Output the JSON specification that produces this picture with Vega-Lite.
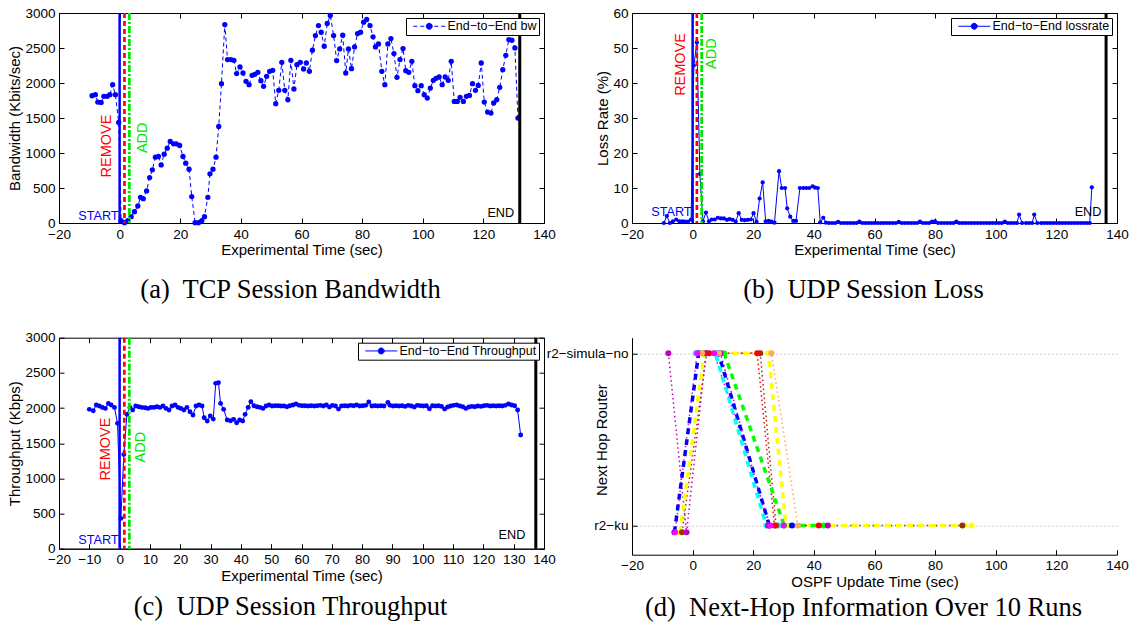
{
"$schema": "https://vega.github.io/schema/vega-lite/v6.json",
"background": "white",
"padding": {"left": 7, "top": 5, "right": 5, "bottom": 5},
"columns": 2,
"spacing": {"row": 114.7, "column": 88},
"bounds": "flush",
"datasets": {
"bw": [{"t":-9.1,"v":1818},{"t":-8.0,"v":1833},{"t":-7.2,"v":1728},{"t":-6.1,"v":1723},{"t":-5.2,"v":1809},{"t":-4.1,"v":1809},{"t":-3.2,"v":1833},{"t":-2.3,"v":1976},{"t":-1.4,"v":1833},{"t":-0.3,"v":1437},{"t":0.5,"v":33},{"t":1.6,"v":5},{"t":2.7,"v":33},{"t":3.8,"v":90},{"t":4.9,"v":162},{"t":6.0,"v":243},{"t":6.9,"v":367},{"t":7.8,"v":348},{"t":8.9,"v":458},{"t":9.9,"v":649},{"t":10.8,"v":759},{"t":11.8,"v":940},{"t":12.8,"v":950},{"t":13.7,"v":830},{"t":14.7,"v":983},{"t":15.7,"v":1069},{"t":16.7,"v":1165},{"t":17.8,"v":1131},{"t":18.7,"v":1131},{"t":19.8,"v":1107},{"t":20.9,"v":950},{"t":21.8,"v":854},{"t":22.9,"v":768},{"t":23.8,"v":377},{"t":24.9,"v":5},{"t":26.0,"v":5},{"t":27.1,"v":33},{"t":28.0,"v":90},{"t":29.1,"v":367},{"t":29.8,"v":702},{"t":30.8,"v":768},{"t":31.8,"v":940},{"t":32.7,"v":1379},{"t":33.6,"v":1990},{"t":34.7,"v":2835},{"t":35.6,"v":2334},{"t":36.7,"v":2334},{"t":37.7,"v":2324},{"t":38.6,"v":2134},{"t":39.7,"v":2229},{"t":40.7,"v":2143},{"t":41.7,"v":2024},{"t":42.7,"v":1976},{"t":43.7,"v":2110},{"t":44.6,"v":2124},{"t":45.6,"v":2153},{"t":46.6,"v":2033},{"t":47.5,"v":1952},{"t":48.5,"v":2095},{"t":49.5,"v":2167},{"t":50.5,"v":2181},{"t":51.5,"v":1704},{"t":52.5,"v":1895},{"t":53.5,"v":2296},{"t":54.5,"v":1895},{"t":55.5,"v":1761},{"t":56.5,"v":2324},{"t":57.5,"v":1914},{"t":58.5,"v":2262},{"t":59.6,"v":2296},{"t":60.7,"v":2200},{"t":61.6,"v":2286},{"t":62.6,"v":2167},{"t":63.6,"v":2468},{"t":64.6,"v":2678},{"t":65.6,"v":2821},{"t":66.5,"v":2725},{"t":67.5,"v":2525},{"t":68.5,"v":2850},{"t":69.5,"v":2964},{"t":70.6,"v":2678},{"t":71.6,"v":2320},{"t":72.6,"v":2487},{"t":73.6,"v":2682},{"t":74.6,"v":2143},{"t":75.5,"v":2487},{"t":76.5,"v":2205},{"t":77.5,"v":2515},{"t":78.5,"v":2706},{"t":79.5,"v":2725},{"t":80.5,"v":2869},{"t":81.5,"v":2907},{"t":82.6,"v":2821},{"t":83.6,"v":2659},{"t":84.4,"v":2515},{"t":85.4,"v":2558},{"t":86.5,"v":2167},{"t":87.5,"v":1976},{"t":88.5,"v":2558},{"t":89.5,"v":2635},{"t":90.5,"v":2420},{"t":91.5,"v":2081},{"t":92.5,"v":2334},{"t":93.5,"v":2492},{"t":94.4,"v":2176},{"t":95.4,"v":2153},{"t":96.4,"v":2310},{"t":97.4,"v":1962},{"t":98.4,"v":1890},{"t":99.5,"v":1962},{"t":100.5,"v":1833},{"t":101.5,"v":1785},{"t":102.5,"v":1928},{"t":103.5,"v":2038},{"t":104.4,"v":2067},{"t":105.4,"v":2086},{"t":106.4,"v":1976},{"t":107.4,"v":2086},{"t":108.4,"v":2038},{"t":109.4,"v":2310},{"t":110.4,"v":1737},{"t":111.4,"v":1737},{"t":112.3,"v":1795},{"t":113.4,"v":1737},{"t":114.4,"v":1809},{"t":115.4,"v":1823},{"t":116.4,"v":1990},{"t":117.4,"v":1895},{"t":118.3,"v":1966},{"t":119.3,"v":2286},{"t":120.3,"v":1728},{"t":121.4,"v":1585},{"t":122.5,"v":1570},{"t":123.4,"v":1714},{"t":124.4,"v":1761},{"t":125.4,"v":1938},{"t":126.4,"v":2191},{"t":127.4,"v":2396},{"t":128.4,"v":2620},{"t":129.4,"v":2611},{"t":130.4,"v":2501},{"t":131.4,"v":1499}],
"loss": [{"t":-9.5,"v":0},{"t":-8.5,"v":2},{"t":-7.5,"v":0},{"t":-6.5,"v":0.5},{"t":-5.4,"v":1},{"t":-4.4,"v":0.5},{"t":-3.4,"v":0.5},{"t":-2.5,"v":0.4},{"t":-1.5,"v":0.4},{"t":-0.5,"v":1},{"t":0.4,"v":45},{"t":1.4,"v":51.6},{"t":2.4,"v":14},{"t":3.4,"v":0.5},{"t":4.4,"v":3},{"t":5.4,"v":0.5},{"t":6.3,"v":1},{"t":7.3,"v":1},{"t":8.3,"v":1.5},{"t":9.3,"v":1.3},{"t":10.3,"v":1.3},{"t":11.3,"v":0.9},{"t":12.2,"v":1.1},{"t":13.2,"v":0.9},{"t":14.2,"v":0.4},{"t":15.2,"v":2.8},{"t":16.2,"v":0.9},{"t":17.2,"v":0.8},{"t":18.2,"v":0.9},{"t":19.2,"v":1},{"t":20.1,"v":2.8},{"t":21.1,"v":0.3},{"t":22.1,"v":7},{"t":23.1,"v":11.6},{"t":24.1,"v":0.5},{"t":25.1,"v":0.6},{"t":26,"v":0.4},{"t":27,"v":0.1},{"t":28.5,"v":14.8},{"t":29.4,"v":10},{"t":30.5,"v":10},{"t":31.2,"v":4.2},{"t":32.2,"v":1.8},{"t":33.2,"v":0.6},{"t":34.1,"v":0.6},{"t":35.4,"v":10},{"t":36.5,"v":10},{"t":37.5,"v":10},{"t":38.5,"v":10},{"t":39.6,"v":10.5},{"t":40.4,"v":10.1},{"t":41.3,"v":10},{"t":42.1,"v":0.2},{"t":43.1,"v":1.5},{"t":44,"v":0.1},{"t":45,"v":0},{"t":46,"v":0},{"t":47,"v":0},{"t":48,"v":0.3},{"t":49,"v":0},{"t":50,"v":0},{"t":51,"v":0},{"t":52,"v":0},{"t":53,"v":0},{"t":54,"v":0},{"t":55,"v":0.4},{"t":56,"v":0},{"t":57,"v":0},{"t":58,"v":0},{"t":59,"v":0},{"t":60,"v":0},{"t":61,"v":0},{"t":62,"v":0},{"t":63,"v":0},{"t":64,"v":0},{"t":65,"v":0},{"t":66,"v":0},{"t":67,"v":0},{"t":68,"v":0.3},{"t":69,"v":0},{"t":70,"v":0},{"t":71,"v":0},{"t":72,"v":0},{"t":73,"v":0},{"t":74,"v":0},{"t":75,"v":0.4},{"t":76,"v":0},{"t":77,"v":0},{"t":78,"v":0},{"t":79,"v":0.4},{"t":80,"v":0.5},{"t":81,"v":0},{"t":82,"v":0},{"t":83,"v":0},{"t":84,"v":0},{"t":85,"v":0},{"t":86,"v":0},{"t":87,"v":0.4},{"t":88,"v":0},{"t":89,"v":0},{"t":90,"v":0},{"t":91,"v":0},{"t":92,"v":0},{"t":93,"v":0},{"t":94,"v":0},{"t":95,"v":0},{"t":96,"v":0},{"t":97,"v":0},{"t":98,"v":0},{"t":99,"v":0},{"t":100,"v":0},{"t":101,"v":0},{"t":102,"v":0},{"t":103,"v":0.4},{"t":104,"v":0},{"t":105,"v":0},{"t":106,"v":0},{"t":107,"v":0},{"t":107.7,"v":2.4},{"t":108.7,"v":0},{"t":110,"v":0},{"t":111,"v":0},{"t":112,"v":0},{"t":112.7,"v":2.4},{"t":113.7,"v":0},{"t":115,"v":0},{"t":116,"v":0},{"t":117,"v":0},{"t":118,"v":0},{"t":119,"v":0},{"t":120,"v":0},{"t":121,"v":0},{"t":122,"v":0},{"t":123,"v":0},{"t":124,"v":0},{"t":125,"v":0},{"t":126,"v":0},{"t":127,"v":0},{"t":128,"v":0},{"t":129,"v":0},{"t":130,"v":0},{"t":131,"v":0},{"t":131.7,"v":10.2}],
"thr": [{"t":-10.0,"v":1981},{"t":-8.7,"v":1962},{"t":-7.7,"v":2043},{"t":-6.7,"v":2028},{"t":-5.7,"v":2009},{"t":-4.7,"v":1995},{"t":-3.7,"v":2066},{"t":-2.8,"v":2043},{"t":-1.7,"v":2009},{"t":-0.7,"v":1782},{"t":0.4,"v":431},{"t":1.4,"v":1341},{"t":2.4,"v":1910},{"t":3.4,"v":2009},{"t":4.3,"v":1971},{"t":5.3,"v":2028},{"t":6.3,"v":2019},{"t":7.3,"v":2009},{"t":8.4,"v":2005},{"t":9.4,"v":1995},{"t":10.3,"v":2009},{"t":11.3,"v":2009},{"t":12.3,"v":2019},{"t":13.3,"v":2009},{"t":14.3,"v":2028},{"t":15.3,"v":1995},{"t":16.3,"v":1971},{"t":17.3,"v":2028},{"t":18.3,"v":2043},{"t":19.3,"v":2009},{"t":20.2,"v":1995},{"t":21.2,"v":1971},{"t":22.2,"v":2009},{"t":23.2,"v":1948},{"t":24.2,"v":1900},{"t":25.2,"v":2028},{"t":26.2,"v":2043},{"t":27.2,"v":2028},{"t":27.9,"v":1862},{"t":28.9,"v":1815},{"t":29.9,"v":1886},{"t":30.9,"v":1843},{"t":31.7,"v":2351},{"t":32.6,"v":2360},{"t":33.3,"v":2066},{"t":34.3,"v":1981},{"t":35.5,"v":1829},{"t":36.6,"v":1820},{"t":37.6,"v":1839},{"t":38.6,"v":1791},{"t":39.6,"v":1829},{"t":40.6,"v":1815},{"t":41.4,"v":1910},{"t":42.4,"v":2009},{"t":43.3,"v":2090},{"t":44.3,"v":2033},{"t":45.3,"v":2019},{"t":46.3,"v":2009},{"t":47.3,"v":1995},{"t":48.3,"v":2028},{"t":49.3,"v":2043},{"t":50.3,"v":2028},{"t":51.3,"v":2033},{"t":52.3,"v":2033},{"t":53.2,"v":2028},{"t":54.2,"v":2028},{"t":55.2,"v":2019},{"t":56.2,"v":2033},{"t":57.2,"v":2043},{"t":58.2,"v":2057},{"t":59.2,"v":2038},{"t":60.2,"v":2033},{"t":61.2,"v":2033},{"t":62.2,"v":2028},{"t":63.2,"v":2033},{"t":64.2,"v":2028},{"t":65.2,"v":2033},{"t":66.2,"v":2038},{"t":67.2,"v":2028},{"t":68.2,"v":2043},{"t":69.2,"v":2014},{"t":70.2,"v":2038},{"t":71.2,"v":2028},{"t":72.2,"v":1985},{"t":73.2,"v":2028},{"t":74.2,"v":2033},{"t":75.2,"v":2028},{"t":76.2,"v":2038},{"t":77.2,"v":2033},{"t":78.2,"v":2043},{"t":79.2,"v":2028},{"t":80.2,"v":2033},{"t":81.2,"v":2038},{"t":82.2,"v":2085},{"t":83.2,"v":2028},{"t":84.2,"v":2033},{"t":85.2,"v":2028},{"t":86.2,"v":2033},{"t":87.2,"v":2028},{"t":88.5,"v":2080},{"t":89.2,"v":2038},{"t":90.2,"v":2028},{"t":91.2,"v":2033},{"t":92.2,"v":2028},{"t":93.2,"v":2033},{"t":94.2,"v":2023},{"t":95.2,"v":2038},{"t":96.2,"v":2028},{"t":97.2,"v":2014},{"t":98.2,"v":2038},{"t":99.2,"v":2033},{"t":100.2,"v":2028},{"t":101.2,"v":2033},{"t":102.2,"v":1990},{"t":103.2,"v":2033},{"t":104.2,"v":2028},{"t":105.2,"v":2033},{"t":106.2,"v":2023},{"t":107.2,"v":1985},{"t":108.2,"v":2014},{"t":109.2,"v":2028},{"t":110.2,"v":2038},{"t":111.2,"v":2043},{"t":112.2,"v":2028},{"t":113.2,"v":2019},{"t":114.2,"v":1995},{"t":115.2,"v":2014},{"t":116.2,"v":2023},{"t":117.2,"v":2019},{"t":118.2,"v":2028},{"t":119.2,"v":2023},{"t":120.2,"v":2033},{"t":121.2,"v":2038},{"t":122.2,"v":2028},{"t":123.2,"v":2033},{"t":124.2,"v":2028},{"t":125.2,"v":2033},{"t":126.2,"v":2028},{"t":127.2,"v":2038},{"t":128.3,"v":2057},{"t":129.3,"v":2043},{"t":130.3,"v":2033},{"t":131.3,"v":1971},{"t":132.3,"v":1616}],
"runs": [{"run":"r1","t":-6,"v":-0.04},{"run":"r1","t":2,"v":1},{"run":"r1","t":8.5,"v":1},{"run":"r1","t":25.3,"v":0},{"run":"r1","t":32.8,"v":0},
{"run":"r2","t":1,"v":1},{"run":"r2","t":7.5,"v":1},{"run":"r2","t":24.3,"v":0},{"run":"r2","t":28.4,"v":0},
{"run":"r3","t":-4.2,"v":-0.04},{"run":"r3","t":3.8,"v":1},{"run":"r3","t":25,"v":1},{"run":"r3","t":30.8,"v":0},{"run":"r3","t":92,"v":0},
{"run":"r4","t":3,"v":1},{"run":"r4","t":10.4,"v":1},{"run":"r4","t":30.2,"v":0},{"run":"r4","t":43.2,"v":0},
{"run":"r5","t":-3.5,"v":-0.04},{"run":"r5","t":4.6,"v":1},{"run":"r5","t":22.3,"v":1},{"run":"r5","t":27.5,"v":0},{"run":"r5","t":89,"v":0},
{"run":"r6","t":-8,"v":1},{"run":"r6","t":-2,"v":-0.04},{"run":"r6","t":4.4,"v":1},{"run":"r6","t":9.2,"v":1},{"run":"r6","t":24.9,"v":0},{"run":"r6","t":44.6,"v":0},
{"run":"r7","t":5.5,"v":1},{"run":"r7","t":21.3,"v":1},{"run":"r7","t":27,"v":0},{"run":"r7","t":41.6,"v":0},
{"run":"r8","t":3.1,"v":1},{"run":"r8","t":8.7,"v":1},{"run":"r8","t":26,"v":1},{"run":"r8","t":34.7,"v":0},
{"run":"r9","t":-5.8,"v":-0.04},{"run":"r9","t":1.5,"v":1},{"run":"r9","t":7.1,"v":1},{"run":"r9","t":25.6,"v":0},{"run":"r9","t":30,"v":0}],
"events": [{"panel":"a","kind":"START","t":0},{"panel":"a","kind":"REMOVE","t":1.6},{"panel":"a","kind":"ADD","t":3.2},{"panel":"a","kind":"END","t":132},
{"panel":"b","kind":"START","t":0},{"panel":"b","kind":"REMOVE","t":1.4},{"panel":"b","kind":"ADD","t":3.0},{"panel":"b","kind":"END","t":136.4},
{"panel":"c","kind":"START","t":0},{"panel":"c","kind":"REMOVE","t":1.55},{"panel":"c","kind":"ADD","t":3.2},{"panel":"c","kind":"END","t":137.3}],
"notes": [{"panel":"a","label":"START","t":0,"v":100},{"panel":"a","label":"END","t":130.5,"v":143},{"panel":"a","label":"REMOVE","t":-4.2,"v":1100},{"panel":"a","label":"ADD","t":7.6,"v":1217},
{"panel":"b","label":"START","t":0,"v":3.2},{"panel":"b","label":"END","t":135.2,"v":3.1},{"panel":"b","label":"REMOVE","t":-3.9,"v":45.3},{"panel":"b","label":"ADD","t":6.5,"v":48.4},
{"panel":"c","label":"START","t":0,"v":124},{"panel":"c","label":"END","t":134.2,"v":195},{"panel":"c","label":"REMOVE","t":-4.6,"v":1418},{"panel":"c","label":"ADD","t":7.2,"v":1445}]
},
"concat": [
{
"width": 485, "height": 210,
"title": {"text": "(a)\u00a0 TCP Session Bandwidth", "orient": "bottom", "offset": 19, "dx": -11, "frame": "group", "fontSize": 26.5},
"resolve": {"axis": {"x": "independent", "y": "independent"}},
"layer": [
{"data": {"name": "bw"}, "mark": {"type": "line", "strokeWidth": 1, "strokeDash": [4, 3]},
"encoding": {
"x": {"field": "t", "type": "quantitative", "scale": {"domain": [-20, 140], "nice": false, "zero": false}, "axis": {"values": [-20,0,20,40,60,80,100,120,140], "title": "Experimental Time (sec)"}},
"y": {"field": "v", "type": "quantitative", "scale": {"domain": [0, 3000], "nice": false}, "axis": {"values": [0,500,1000,1500,2000,2500,3000], "format": "d", "title": "Bandwidth (Kbits/sec)"}},
"color": {"datum": "End−to−End bw", "type": "nominal", "scale": {"range": ["#0000ff"]},
"legend": {"title": null, "orient": "top-right", "offset": 5, "padding": 2, "strokeColor": "black", "fillColor": "white", "symbolType": "M-3.2,0L-2.4,0M-1.8,0L-1,0M1,0L1.8,0M2.4,0L3.2,0M0.6,0A0.6,0.6,0,1,1,-0.6,0A0.6,0.6,0,1,1,0.6,0Z", "symbolSize": 100, "symbolOffset": 15, "labelOffset": 12, "labelLimit": 300,
"encode": {"symbols": {"update": {"fill": {"value": "#0000ff"}, "stroke": {"value": "#0000ff"}, "strokeWidth": {"value": 1}, "opacity": {"value": 1}}}}}}
}},
{"data": {"name": "bw"}, "mark": {"type": "point", "filled": true, "color": "#0000ff", "size": 28, "opacity": 1},
"encoding": {
"x": {"field": "t", "type": "quantitative", "axis": {"orient": "top", "labels": false, "title": null, "domain": false, "values": [-20,0,20,40,60,80,100,120,140]}},
"y": {"field": "v", "type": "quantitative", "axis": {"orient": "right", "labels": false, "title": null, "domain": false, "values": [0,500,1000,1500,2000,2500,3000]}}
}},
{"data": {"name": "events"}, "transform": [{"filter": "datum.panel === 'a'"}], "mark": {"type": "rule"},
"encoding": {
"x": {"field": "t", "type": "quantitative", "axis": null},
"stroke": {"field": "kind", "type": "nominal", "scale": {"domain": ["START","REMOVE","ADD","END"], "range": ["#0000ff","#ff0000","#00e600","#000000"]}, "legend": null},
"strokeDash": {"field": "kind", "type": "nominal", "scale": {"domain": ["START","REMOVE","ADD","END"], "range": [[1,0],[5,3],[7,2,2,2],[1,0]]}, "legend": null},
"strokeWidth": {"field": "kind", "type": "ordinal", "scale": {"domain": ["START","REMOVE","ADD","END"], "range": [2.5,3,3,2]}, "legend": null}
}},
{"data": {"name": "notes"}, "transform": [{"filter": "datum.panel === 'a' && (datum.label === 'START' || datum.label === 'END')"}],
"mark": {"type": "text", "align": "right", "baseline": "middle", "dx": -1, "font": "Liberation Sans", "fontSize": 12.7},
"encoding": {"x": {"field": "t", "type": "quantitative", "axis": null}, "y": {"field": "v", "type": "quantitative", "axis": null}, "text": {"field": "label"},
"fill": {"field": "label", "type": "nominal", "scale": {"domain": ["START","REMOVE","ADD","END"], "range": ["#0000ff","#ff0000","#00e600","#000000"]}, "legend": null}}},
{"data": {"name": "notes"}, "transform": [{"filter": "datum.panel === 'a' && (datum.label === 'REMOVE' || datum.label === 'ADD')"}],
"mark": {"type": "text", "align": "center", "baseline": "middle", "angle": 270, "font": "Liberation Sans", "fontSize": 14.5},
"encoding": {"x": {"field": "t", "type": "quantitative", "axis": null}, "y": {"field": "v", "type": "quantitative", "axis": null}, "text": {"field": "label"},
"fill": {"field": "label", "type": "nominal", "scale": {"domain": ["START","REMOVE","ADD","END"], "range": ["#0000ff","#ff0000","#00e600","#000000"]}, "legend": null}}}
]
},
{
"width": 485, "height": 210,
"title": {"text": "(b)\u00a0 UDP Session Loss", "orient": "bottom", "offset": 19, "dx": -11, "frame": "group", "fontSize": 26.5},
"resolve": {"axis": {"x": "independent", "y": "independent"}},
"layer": [
{"data": {"name": "loss"}, "mark": {"type": "line", "strokeWidth": 1},
"encoding": {
"x": {"field": "t", "type": "quantitative", "scale": {"domain": [-20, 140], "nice": false, "zero": false}, "axis": {"values": [-20,0,20,40,60,80,100,120,140], "title": "Experimental Time (sec)"}},
"y": {"field": "v", "type": "quantitative", "scale": {"domain": [0, 60], "nice": false}, "axis": {"values": [0,10,20,30,40,50,60], "format": "d", "title": "Loss Rate (%)"}},
"color": {"datum": "End−to−End lossrate", "type": "nominal", "scale": {"range": ["#0000ff"]},
"legend": {"title": null, "orient": "top-right", "offset": 5, "padding": 2, "strokeColor": "black", "fillColor": "white", "symbolType": "M-3.2,0L3.2,0M0.6,0A0.6,0.6,0,1,1,-0.6,0A0.6,0.6,0,1,1,0.6,0Z", "symbolSize": 100, "symbolOffset": 15, "labelOffset": 12, "labelLimit": 300,
"encode": {"symbols": {"update": {"fill": {"value": "#0000ff"}, "stroke": {"value": "#0000ff"}, "strokeWidth": {"value": 1}, "opacity": {"value": 1}}}}}}
}},
{"data": {"name": "loss"}, "mark": {"type": "point", "filled": true, "color": "#0000ff", "size": 18, "opacity": 1},
"encoding": {
"x": {"field": "t", "type": "quantitative", "axis": {"orient": "top", "labels": false, "title": null, "domain": false, "values": [-20,0,20,40,60,80,100,120,140]}},
"y": {"field": "v", "type": "quantitative", "axis": {"orient": "right", "labels": false, "title": null, "domain": false, "values": [0,10,20,30,40,50,60]}}
}},
{"data": {"name": "events"}, "transform": [{"filter": "datum.panel === 'b'"}], "mark": {"type": "rule"},
"encoding": {
"x": {"field": "t", "type": "quantitative", "axis": null},
"stroke": {"field": "kind", "type": "nominal", "scale": {"domain": ["START","REMOVE","ADD","END"], "range": ["#0000ff","#ff0000","#00e600","#000000"]}, "legend": null},
"strokeDash": {"field": "kind", "type": "nominal", "scale": {"domain": ["START","REMOVE","ADD","END"], "range": [[1,0],[5,3],[7,2,2,2],[1,0]]}, "legend": null},
"strokeWidth": {"field": "kind", "type": "ordinal", "scale": {"domain": ["START","REMOVE","ADD","END"], "range": [2.5,3,3,2]}, "legend": null}
}},
{"data": {"name": "notes"}, "transform": [{"filter": "datum.panel === 'b' && (datum.label === 'START' || datum.label === 'END')"}],
"mark": {"type": "text", "align": "right", "baseline": "middle", "dx": -1, "font": "Liberation Sans", "fontSize": 12.7},
"encoding": {"x": {"field": "t", "type": "quantitative", "axis": null}, "y": {"field": "v", "type": "quantitative", "axis": null}, "text": {"field": "label"},
"fill": {"field": "label", "type": "nominal", "scale": {"domain": ["START","REMOVE","ADD","END"], "range": ["#0000ff","#ff0000","#00e600","#000000"]}, "legend": null}}},
{"data": {"name": "notes"}, "transform": [{"filter": "datum.panel === 'b' && (datum.label === 'REMOVE' || datum.label === 'ADD')"}],
"mark": {"type": "text", "align": "center", "baseline": "middle", "angle": 270, "font": "Liberation Sans", "fontSize": 14.5},
"encoding": {"x": {"field": "t", "type": "quantitative", "axis": null}, "y": {"field": "v", "type": "quantitative", "axis": null}, "text": {"field": "label"},
"fill": {"field": "label", "type": "nominal", "scale": {"domain": ["START","REMOVE","ADD","END"], "range": ["#0000ff","#ff0000","#00e600","#000000"]}, "legend": null}}}
]
},
{
"width": 485, "height": 211,
"title": {"text": "(c)\u00a0 UDP Session Throughput", "orient": "bottom", "offset": 11, "dx": -11, "frame": "group", "fontSize": 26.5},
"resolve": {"axis": {"x": "independent", "y": "independent"}},
"layer": [
{"data": {"name": "thr"}, "mark": {"type": "line", "strokeWidth": 1},
"encoding": {
"x": {"field": "t", "type": "quantitative", "scale": {"domain": [-20, 140], "nice": false, "zero": false}, "axis": {"values": [-20,-10,0,10,20,30,40,50,60,70,80,90,100,110,120,130,140], "title": "Experimental Time (sec)"}},
"y": {"field": "v", "type": "quantitative", "scale": {"domain": [0, 3000], "nice": false}, "axis": {"values": [0,500,1000,1500,2000,2500,3000], "format": "d", "title": "Throughput (Kbps)"}},
"color": {"datum": "End−to−End Throughput", "type": "nominal", "scale": {"range": ["#0000ff"]},
"legend": {"title": null, "orient": "top-right", "offset": 5, "padding": 2, "strokeColor": "black", "fillColor": "white", "symbolType": "M-3.2,0L3.2,0M0.6,0A0.6,0.6,0,1,1,-0.6,0A0.6,0.6,0,1,1,0.6,0Z", "symbolSize": 100, "symbolOffset": 15, "labelOffset": 12, "labelLimit": 300,
"encode": {"symbols": {"update": {"fill": {"value": "#0000ff"}, "stroke": {"value": "#0000ff"}, "strokeWidth": {"value": 1}, "opacity": {"value": 1}}}}}}
}},
{"data": {"name": "thr"}, "mark": {"type": "point", "filled": true, "color": "#0000ff", "size": 24, "opacity": 1},
"encoding": {
"x": {"field": "t", "type": "quantitative", "axis": {"orient": "top", "labels": false, "title": null, "domain": false, "values": [-20,-10,0,10,20,30,40,50,60,70,80,90,100,110,120,130,140]}},
"y": {"field": "v", "type": "quantitative", "axis": {"orient": "right", "labels": false, "title": null, "domain": false, "values": [0,500,1000,1500,2000,2500,3000]}}
}},
{"data": {"name": "events"}, "transform": [{"filter": "datum.panel === 'c'"}], "mark": {"type": "rule"},
"encoding": {
"x": {"field": "t", "type": "quantitative", "axis": null},
"stroke": {"field": "kind", "type": "nominal", "scale": {"domain": ["START","REMOVE","ADD","END"], "range": ["#0000ff","#ff0000","#00e600","#000000"]}, "legend": null},
"strokeDash": {"field": "kind", "type": "nominal", "scale": {"domain": ["START","REMOVE","ADD","END"], "range": [[1,0],[5,3],[7,2,2,2],[1,0]]}, "legend": null},
"strokeWidth": {"field": "kind", "type": "ordinal", "scale": {"domain": ["START","REMOVE","ADD","END"], "range": [2.5,3,3,2]}, "legend": null}
}},
{"data": {"name": "notes"}, "transform": [{"filter": "datum.panel === 'c' && (datum.label === 'START' || datum.label === 'END')"}],
"mark": {"type": "text", "align": "right", "baseline": "middle", "dx": -1, "font": "Liberation Sans", "fontSize": 12.7},
"encoding": {"x": {"field": "t", "type": "quantitative", "axis": null}, "y": {"field": "v", "type": "quantitative", "axis": null}, "text": {"field": "label"},
"fill": {"field": "label", "type": "nominal", "scale": {"domain": ["START","REMOVE","ADD","END"], "range": ["#0000ff","#ff0000","#00e600","#000000"]}, "legend": null}}},
{"data": {"name": "notes"}, "transform": [{"filter": "datum.panel === 'c' && (datum.label === 'REMOVE' || datum.label === 'ADD')"}],
"mark": {"type": "text", "align": "center", "baseline": "middle", "angle": 270, "font": "Liberation Sans", "fontSize": 14.5},
"encoding": {"x": {"field": "t", "type": "quantitative", "axis": null}, "y": {"field": "v", "type": "quantitative", "axis": null}, "text": {"field": "label"},
"fill": {"field": "label", "type": "nominal", "scale": {"domain": ["START","REMOVE","ADD","END"], "range": ["#0000ff","#ff0000","#00e600","#000000"]}, "legend": null}}}
]
},
{
"width": 485, "height": 217,
"view": {"stroke": null},
"title": {"text": "(d)\u00a0 Next-Hop Information Over 10 Runs", "orient": "bottom", "offset": 6, "dx": -11, "frame": "group", "fontSize": 26.5},
"data": {"name": "runs"},
"layer": [
{"transform": [{"filter": {"field": "run", "oneOf": ["r5","r6","r7","r8","r9"]}}],
"mark": {"type": "line", "strokeWidth": 1.5, "strokeDash": [1.5, 3]},
"encoding": {
"x": {"field": "t", "type": "quantitative", "scale": {"domain": [-20, 140], "nice": false, "zero": false}, "axis": {"values": [-20,0,20,40,60,80,100,120,140], "title": "OSPF Update Time (sec)"}},
"y": {"field": "v", "type": "quantitative", "scale": {"domain": [-0.17, 1.09], "nice": false, "zero": false}, "axis": {"values": [0, 1], "labelExpr": "datum.value === 1 ? 'r2−simula−no' : 'r2−ku'", "grid": true, "gridDash": [1, 3], "gridColor": "#999999", "gridWidth": 1, "title": "Next Hop Router", "titleX": -23, "titleY": 102, "titleAlign": "center", "titleBaseline": "bottom", "titleAngle": 270}},
"color": {"field": "run", "type": "nominal", "scale": {"domain": ["r1","r2","r3","r4","r5","r6","r7","r8","r9"], "range": ["#0000ff","#00ffff","#ffff00","#00ff00","#993300","#bf00bf","#ff0000","#ffa860","#ff00ff"]}, "legend": null}
}},
{"transform": [{"filter": {"field": "run", "oneOf": ["r1","r2","r3","r4"]}}],
"mark": {"type": "line", "strokeWidth": 3.5, "strokeDash": [6, 5]},
"encoding": {
"x": {"field": "t", "type": "quantitative"},
"y": {"field": "v", "type": "quantitative"},
"color": {"field": "run", "type": "nominal", "legend": null}
}},
{"mark": {"type": "point", "filled": true, "size": 36, "opacity": 1},
"encoding": {
"x": {"field": "t", "type": "quantitative"},
"y": {"field": "v", "type": "quantitative"},
"color": {"field": "run", "type": "nominal", "legend": null}
}}
]
}
],
"resolve": {"scale": {"color": "independent", "stroke": "independent", "strokeDash": "independent", "strokeWidth": "independent", "fill": "independent"}},
"config": {
"font": "Liberation Sans",
"view": {"stroke": "black", "strokeWidth": 1},
"axis": {"domainColor": "black", "tickColor": "black", "labelColor": "black", "titleColor": "black", "grid": false, "labelFont": "Liberation Sans", "titleFont": "Liberation Sans", "labelFontSize": 13.5, "titleFontSize": 15, "titleFontWeight": "normal", "tickSize": -5, "labelPadding": 9, "labelFlush": false, "labelOverlap": false, "domainWidth": 1, "titlePadding": 2},
"title": {"font": "Liberation Serif", "fontSize": 23, "fontWeight": "normal", "color": "black", "anchor": "middle"},
"legend": {"labelFont": "Liberation Sans", "labelFontSize": 12.5, "labelColor": "black"}
}
}
